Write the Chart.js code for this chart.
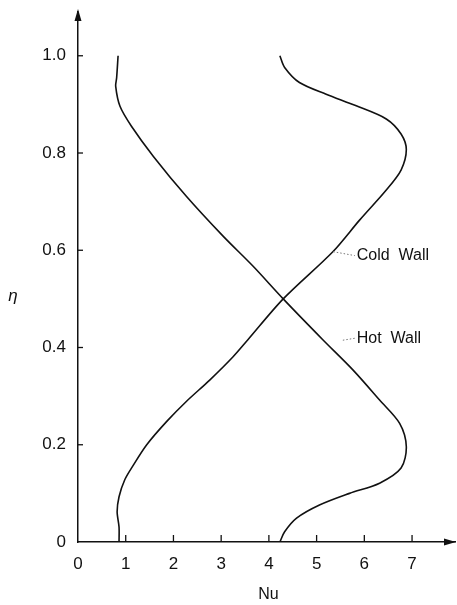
<!DOCTYPE html>
<html>
<head>
<meta charset="utf-8">
<style>
  html, body { margin: 0; padding: 0; background: #fff; }
  #wrap { width: 457px; height: 605px; }
</style>
<script src="https://cdn.jsdelivr.net/npm/chart.js@4.4.1/dist/chart.umd.min.js"></script>
</head>
<body>
<div id="wrap"><canvas id="chart" width="457" height="605"></canvas></div>
<script>
// values (Nu along x, eta along y)
const etaCold = [0, 0.031, 0.062, 0.093, 0.128, 0.158, 0.2, 0.248, 0.289, 0.333, 0.381, 0.416, 0.5, 0.597, 0.662, 0.724, 0.765, 0.807, 0.839, 0.870, 0.897, 0.921, 0.945, 0.976, 1.0]
const nuCold  = [0.86, 0.86, 0.82, 0.86, 0.98, 1.16, 1.44, 1.86, 2.27, 2.76, 3.25, 3.56, 4.3, 5.34, 5.90, 6.46, 6.77, 6.88, 6.77, 6.46, 5.83, 5.20, 4.64, 4.33, 4.23]

const etaHot = [0, 0.021, 0.049, 0.076, 0.100, 0.121, 0.152, 0.196, 0.244, 0.292, 0.354, 0.416, 0.5, 0.567, 0.629, 0.711, 0.793, 0.855, 0.896, 0.937, 0.955, 1.0]
const nuHot  = [4.23, 4.33, 4.58, 5.06, 5.69, 6.32, 6.77, 6.88, 6.74, 6.32, 5.76, 5.13, 4.3, 3.67, 3.04, 2.27, 1.58, 1.12, 0.88, 0.79, 0.81, 0.84]

const xTickValues = [0, 1, 2, 3, 4, 5, 6, 7]
const yTickValues = [0, 0.2, 0.4, 0.6, 0.8, 1.0]
const yTickLabels = ["0", "0.2", "0.4", "0.6", "0.8", "1.0"]
const seriesNames = ["Cold Wall", "Hot Wall"]

const FONT = "'Liberation Sans', Arial, sans-serif"

function toPoints(xs, ys){
    return xs.map((v, i) => ({x: v, y: ys[i]}))
}

function line(ctx, x1, y1, x2, y2){
    ctx.beginPath()
    ctx.moveTo(x1, y1)
    ctx.lineTo(x2, y2)
    ctx.stroke()
}

// inward ticks, arrow heads and the hand placed labels
const axisExtras = {
    id: 'axisExtras',
    afterDraw(chart){
        const {ctx, chartArea} = chart
        const x = chart.scales.x
        const y = chart.scales.y
        const x0 = x.getPixelForValue(0)
        const y0 = y.getPixelForValue(0)
        ctx.save()
        ctx.strokeStyle = '#111'
        ctx.fillStyle = '#111'
        ctx.lineWidth = 1.3

        xTickValues.forEach(v => {
            if (v === 0) return
            const px = x.getPixelForValue(v)
            line(ctx, px, y0, px, y0 - 7)
        })
        yTickValues.forEach(v => {
            if (v === 0) return
            const py = y.getPixelForValue(v)
            line(ctx, x0, py, x0 + 5, py)
        })

        // arrow heads
        ctx.beginPath()
        ctx.moveTo(x0, chartArea.top - 3)
        ctx.lineTo(x0 - 3.5, chartArea.top + 9)
        ctx.lineTo(x0 + 3.5, chartArea.top + 9)
        ctx.closePath()
        ctx.fill()
        ctx.beginPath()
        ctx.moveTo(chartArea.right + 1, y0)
        ctx.lineTo(chartArea.right - 11, y0 - 3.5)
        ctx.lineTo(chartArea.right - 11, y0 + 3.5)
        ctx.closePath()
        ctx.fill()

        // dotted leaders to the curve names
        ctx.strokeStyle = '#777'
        ctx.lineWidth = 1
        ctx.setLineDash([1.5, 2])
        line(ctx, x.getPixelForValue(5.35), y.getPixelForValue(0.597), x.getPixelForValue(5.8), y.getPixelForValue(0.589))
        line(ctx, x.getPixelForValue(5.55), y.getPixelForValue(0.415), x.getPixelForValue(5.8), y.getPixelForValue(0.419))
        ctx.setLineDash([])

        ctx.fillStyle = '#111'
        ctx.font = '16px ' + FONT
        ctx.textBaseline = 'middle'
        ctx.textAlign = 'left'
        ctx.fillText(seriesNames[0].replace(' ', '  '), x.getPixelForValue(5.84), y.getPixelForValue(0.589))
        ctx.fillText(seriesNames[1].replace(' ', '  '), x.getPixelForValue(5.84), y.getPixelForValue(0.419))

        // axis names
        ctx.textAlign = 'center'
        ctx.font = 'italic 17px ' + FONT
        ctx.fillText('\u03B7', 13, y.getPixelForValue(0.505))
        ctx.font = '16px ' + FONT
        ctx.fillText('Nu', (chartArea.left + chartArea.right) / 2 + 2, 595)
        ctx.restore()
    }
}

function makeChart(){
    window.chart = new Chart(
        document.getElementById('chart'),
        {
            type: 'scatter',
            data: {
                datasets: [
                    {
                        label: seriesNames[0],
                        data: toPoints(nuCold, etaCold),
                        showLine: true,
                        borderColor: '#111',
                        borderWidth: 1.6,
                        pointRadius: 0,
                        tension: 0.3
                    },
                    {
                        label: seriesNames[1],
                        data: toPoints(nuHot, etaHot),
                        showLine: true,
                        borderColor: '#111',
                        borderWidth: 1.6,
                        pointRadius: 0,
                        tension: 0.3
                    }
                ]
            },
            options: {
                responsive: false,
                animation: false,
                devicePixelRatio: 1,
                layout: { padding: { left: 0, right: 2, top: 12, bottom: 0 } },
                plugins: {
                    legend: { display: false },
                    tooltip: { enabled: false }
                },
                scales: {
                    x: {
                        type: 'linear',
                        min: 0,
                        max: 7.9,
                        afterBuildTicks: (scale) => { scale.ticks = xTickValues.map(v => ({value: v})) },
                        afterFit: (scale) => { scale.height = 63; scale.paddingRight = 0 },
                        grid: { display: false, drawTicks: false },
                        border: { display: true, color: '#111', width: 1.5 },
                        ticks: {
                            padding: 12,
                            color: '#111',
                            font: { family: FONT, size: 17 },
                            callback: (v) => String(v)
                        }
                    },
                    y: {
                        type: 'linear',
                        min: 0,
                        max: 1.09,
                        afterBuildTicks: (scale) => { scale.ticks = yTickValues.map(v => ({value: v})) },
                        afterFit: (scale) => { scale.width = 78; scale.paddingTop = 0 },
                        grid: { display: false, drawTicks: false },
                        border: { display: true, color: '#111', width: 1.5 },
                        ticks: {
                            padding: 12,
                            color: '#111',
                            font: { family: FONT, size: 17 },
                            callback: (v, i) => yTickLabels[i]
                        }
                    }
                }
            },
            plugins: [axisExtras]
        }
    )
}

makeChart()
</script>
</body>
</html>
